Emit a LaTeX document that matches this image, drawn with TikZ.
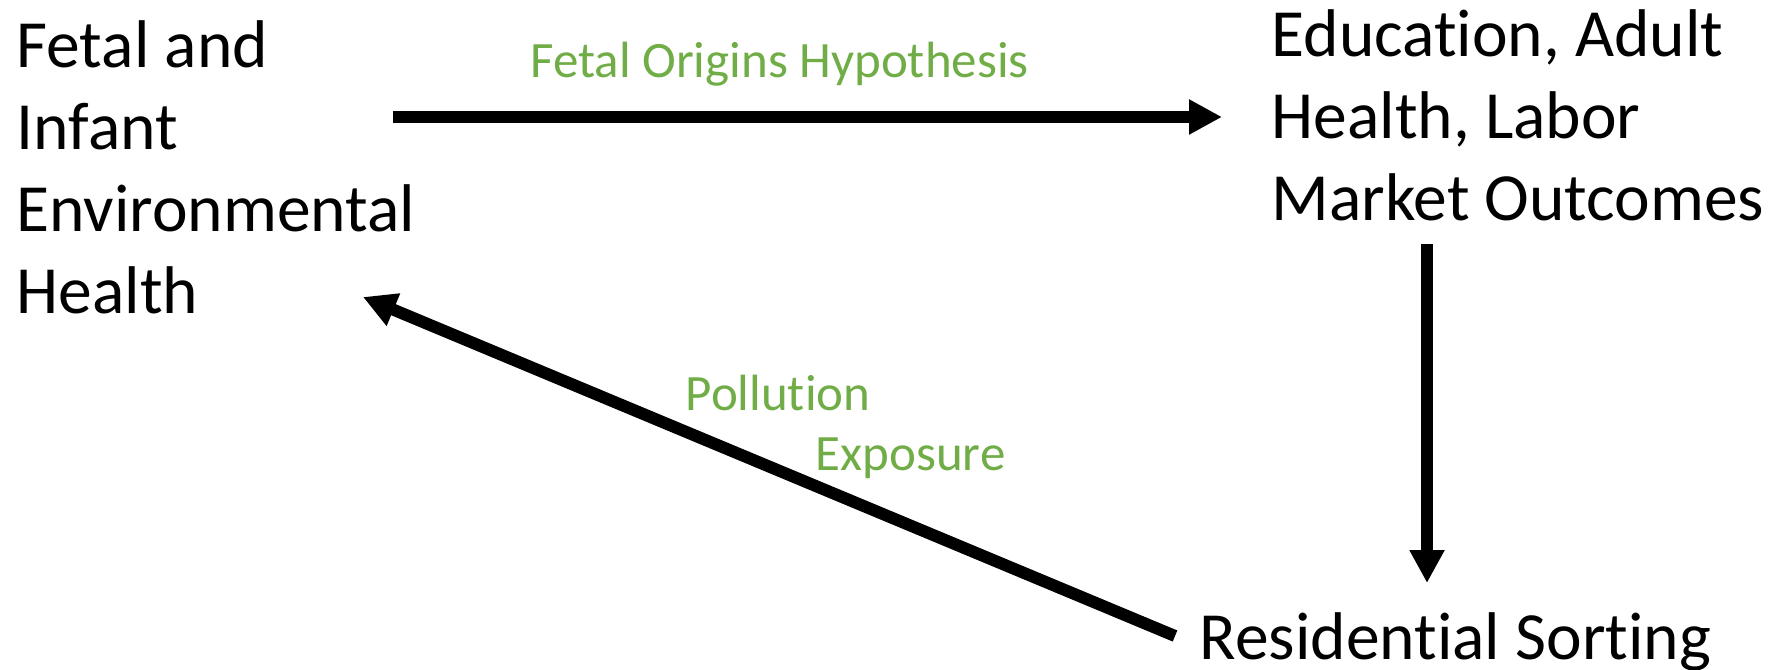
\documentclass[tikz,border=0pt]{standalone}
\usepackage{fontspec}
\setmainfont{Carlito}[Ligatures = NoCommon]
\usetikzlibrary{arrows.meta}
\definecolor{labelgreen}{HTML}{70AD47}

\begin{document}
\begin{tikzpicture}[x = 0.1mm, y = -0.1mm,
                    bnode/.style = {anchor = base west,
                                    inner sep = 0pt,
                                    align = left,
                                    font = \fontsize{19.2pt}{23.35pt}\selectfont},
                    lnode/.style = {anchor = base west,
                                    inner sep = 0pt,
                                    color = labelgreen,
                                    font = \fontsize{14.5pt}{17.7pt}\selectfont},
                    flow/.style = {line width = 1.2mm,
                                   -{Triangle[length = 3.3mm, width = 3.3mm]}}]
		\useasboundingbox (0,0) rectangle (1789,670);
		% base anchor sits on the last line
		\node[bnode] (fetal) at (16,314) {Fetal and\\Infant\\Environmental\\Health};
		\node[bnode] (edu) at (1271,221) {Education, Adult\\Health, Labor\\Market Outcomes};
		\node[bnode] (sort) at (1199,659) {Residential Sorting};
		\node[lnode] (origins) at (530,78) {Fetal Origins Hypothesis};
		\node[lnode] (poll) at (685,411) {Pollution};
		\node[lnode] (expo) at (815,470) {Exposure};
		\coordinate (fetalout) at (393,117);
		\coordinate (eduin) at (1222,117);
		\coordinate (eduout) at (1427,244);
		\coordinate (sortin) at (1427,583);
		\coordinate (sortout) at (1175,636);
		\coordinate (fetalin) at (363,297);
		\draw[flow] (fetalout) -- (eduin);
		\draw[flow] (eduout) -- (sortin);
		\draw[flow] (sortout) -- (fetalin);
	\end{tikzpicture}
\end{document}
